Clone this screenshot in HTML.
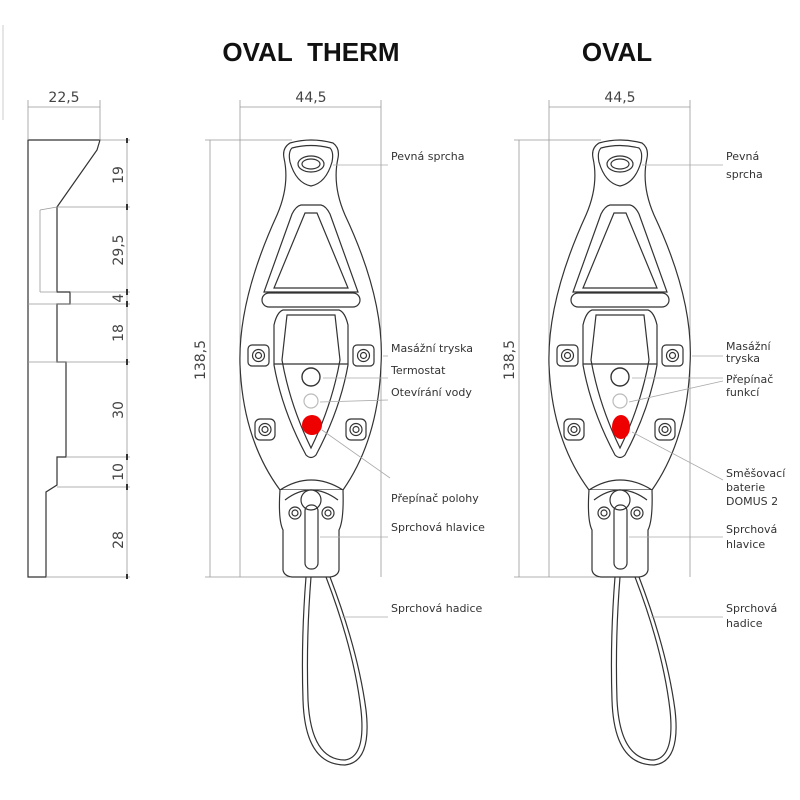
<!DOCTYPE html>
<html><head><meta charset="utf-8"><style>
html,body{margin:0;padding:0;background:#fff}
svg{display:block}
text{font-family:"DejaVu Sans","Liberation Sans",sans-serif;fill:#333}
.l{font-size:11px}
.d{font-size:14px;fill:#444}
.t{font-family:"Liberation Sans",sans-serif;font-weight:bold;font-size:26px;fill:#111}
</style></head><body>
<svg width="800" height="800" viewBox="0 0 800 800" xmlns="http://www.w3.org/2000/svg">
<defs>
<g id="dev" fill="none" stroke="#333" stroke-width="1.2">
  <path d="M290,143 Q311,137 333,143 Q340,148 338,158 Q332,185 345,215 Q385,300 381,365 Q378,440 343,490 L280,490 Q243,440 240,365 Q238,300 277,215 Q290,185 284,158 Q282,148 290,143 Z" fill="#fff"/>
  <path d="M292,148 Q311,143 330,148 Q334,152 332,162 Q326,183 311,186 Q296,183 290,162 Q288,152 292,148 Z"/>
  <ellipse cx="311" cy="164" rx="13" ry="8"/>
  <ellipse cx="311" cy="164" rx="9" ry="5"/>
  <path d="M301,205 L321,205 Q326,206 330,214 L358,292 L264,292 L292,214 Q296,206 301,205 Z"/>
  <path d="M305,213 L317,213 L348,288 L274,288 Z"/>
  <rect x="262" y="293" width="98" height="14" rx="7"/>
  <path d="M283,310 L339,310 Q345,312 348,325 L348,365 Q340,410 316,455 Q311,460 306,455 Q282,410 274,365 L274,325 Q277,312 283,310 Z"/>
  <path d="M287,315 L335,315 L340,360 Q332,405 311,448 Q290,405 282,360 Z"/>
  <line x1="274" y1="364" x2="348" y2="364"/>
  <g><rect x="248" y="345" width="21" height="21" rx="4"/><circle cx="258.5" cy="355.5" r="6"/><circle cx="258.5" cy="355.5" r="3"/></g>
  <g><rect x="353" y="345" width="21" height="21" rx="4"/><circle cx="363.5" cy="355.5" r="6"/><circle cx="363.5" cy="355.5" r="3"/></g>
  <g><rect x="255" y="419" width="20" height="21" rx="5"/><circle cx="265" cy="429.5" r="6"/><circle cx="265" cy="429.5" r="3"/></g>
  <g><rect x="346" y="419" width="20" height="21" rx="5"/><circle cx="356" cy="429.5" r="6"/><circle cx="356" cy="429.5" r="3"/></g>
  <path d="M280,490 Q311,470 343,490" />
  <path d="M280,490 Q278,520 283,530 L283,570 Q284,576 292,577 L330,577 Q338,576 339,570 L339,530 Q344,520 343,490" fill="#fff"/>
  <path d="M285,500 Q311,480 338,500"/>
  <circle cx="311" cy="500" r="10" fill="#fff"/>
  <circle cx="295" cy="513" r="6"/><circle cx="295" cy="513" r="3"/>
  <circle cx="328" cy="513" r="6"/><circle cx="328" cy="513" r="3"/>
  <rect x="305" y="505" width="13" height="64" rx="6"/>
  <path d="M306,577 Q301,640 303,700 Q305,765 345,765 Q372,762 366,710 Q358,650 330,577"/>
  <path d="M311,577 Q306,640 308,700 Q311,760 345,760 Q366,757 361,710 Q354,650 326,577"/>
</g>
</defs>

<line x1="3" y1="25" x2="3" y2="120" stroke="#ccc"/>
<text class="t" x="311" y="61" text-anchor="middle">OVAL&#160; THERM</text>
<text class="t" x="617" y="61" text-anchor="middle">OVAL</text>

<g fill="none" stroke="#333" stroke-width="1.2">
<path d="M28,140 L100,140 L97,150 L57,207 L57,292 L70,292 L70,304 L57,304 L57,362 L66,362 L66,457 L57,457 L57,485 L46,492 L46,577 L28,577 Z"/>
</g>
<g stroke="#999" stroke-width="0.8" fill="none">
<line x1="28" y1="107" x2="100" y2="107"/><line x1="28" y1="100" x2="28" y2="140"/><line x1="100" y1="100" x2="100" y2="140"/>
<line x1="127" y1="140" x2="127" y2="577"/>
<line x1="100" y1="140" x2="130" y2="140"/><line x1="57" y1="207" x2="130" y2="207"/>
<line x1="40" y1="210" x2="40" y2="292"/><line x1="40" y1="210" x2="57" y2="207"/><line x1="40" y1="292" x2="57" y2="292"/>
<line x1="70" y1="292" x2="130" y2="292"/><line x1="28" y1="304" x2="130" y2="304"/>
<line x1="28" y1="362" x2="130" y2="362"/><line x1="66" y1="457" x2="130" y2="457"/><line x1="57" y1="487" x2="130" y2="487"/>
<line x1="46" y1="577" x2="130" y2="577"/>
</g>
<g stroke="#333" stroke-width="2">
<line x1="127" y1="138" x2="127" y2="143"/><line x1="127" y1="204" x2="127" y2="210"/><line x1="127" y1="289" x2="127" y2="295"/><line x1="127" y1="301" x2="127" y2="307"/><line x1="127" y1="359" x2="127" y2="365"/><line x1="127" y1="454" x2="127" y2="460"/><line x1="127" y1="484" x2="127" y2="490"/><line x1="127" y1="574" x2="127" y2="579"/>
</g>
<text class="d" x="64" y="102" text-anchor="middle">22,5</text>
<text class="d" transform="translate(123,175) rotate(-90)" text-anchor="middle">19</text>
<text class="d" transform="translate(123,250) rotate(-90)" text-anchor="middle">29,5</text>
<text class="d" transform="translate(123,298) rotate(-90)" text-anchor="middle">4</text>
<text class="d" transform="translate(123,333) rotate(-90)" text-anchor="middle">18</text>
<text class="d" transform="translate(123,410) rotate(-90)" text-anchor="middle">30</text>
<text class="d" transform="translate(123,472) rotate(-90)" text-anchor="middle">10</text>
<text class="d" transform="translate(123,540) rotate(-90)" text-anchor="middle">28</text>

<g stroke="#999" stroke-width="0.8">
<line x1="240" y1="100" x2="240" y2="577"/><line x1="381" y1="100" x2="381" y2="577"/>
<line x1="240" y1="107" x2="381" y2="107"/>
<line x1="210" y1="140" x2="210" y2="577"/>
<line x1="205" y1="140" x2="292" y2="140"/><line x1="205" y1="577" x2="290" y2="577"/>
</g>
<text class="d" x="311" y="102" text-anchor="middle">44,5</text>
<text class="d" transform="translate(205,360) rotate(-90)" text-anchor="middle">138,5</text>
<use href="#dev"/>
<circle cx="311" cy="377" r="9" fill="#fff" stroke="#333" stroke-width="1.4"/>
<circle cx="311" cy="401" r="7" fill="#fff" stroke="#bbb" stroke-width="1.2"/>
<circle cx="312" cy="425" r="10" fill="#e00"/>
<g stroke="#aaa" stroke-width="0.8">
<line x1="333" y1="165" x2="388" y2="165"/><line x1="383" y1="356" x2="388" y2="356"/>
<line x1="323" y1="378" x2="388" y2="378"/><line x1="320" y1="402" x2="388" y2="400"/>
<line x1="322" y1="430" x2="390" y2="478"/><line x1="320" y1="537" x2="388" y2="537"/>
<line x1="342" y1="617" x2="388" y2="617"/>
</g>
<text class="l" x="391" y="160">Pevná sprcha</text>
<text class="l" x="391" y="352">Masážní tryska</text>
<text class="l" x="391" y="374">Termostat</text>
<text class="l" x="391" y="396">Otevírání vody</text>
<text class="l" x="391" y="502">Přepínač polohy</text>
<text class="l" x="391" y="531">Sprchová hlavice</text>
<text class="l" x="391" y="612">Sprchová hadice</text>

<g stroke="#999" stroke-width="0.8">
<line x1="549" y1="100" x2="549" y2="577"/><line x1="690" y1="100" x2="690" y2="577"/>
<line x1="549" y1="107" x2="690" y2="107"/>
<line x1="519" y1="140" x2="519" y2="577"/>
<line x1="514" y1="140" x2="601" y2="140"/><line x1="514" y1="577" x2="599" y2="577"/>
</g>
<text class="d" x="620" y="102" text-anchor="middle">44,5</text>
<text class="d" transform="translate(514,360) rotate(-90)" text-anchor="middle">138,5</text>
<use href="#dev" transform="translate(309,0)"/>
<circle cx="620" cy="377" r="9" fill="#fff" stroke="#333" stroke-width="1.4"/>
<circle cx="620" cy="401" r="7" fill="#fff" stroke="#bbb" stroke-width="1.2"/>
<ellipse cx="621" cy="427" rx="9" ry="12" fill="#e00"/>
<g stroke="#aaa" stroke-width="0.8">
<line x1="642" y1="165" x2="723" y2="165"/><line x1="692" y1="356" x2="723" y2="356"/>
<line x1="632" y1="378" x2="723" y2="378"/><line x1="629" y1="402" x2="723" y2="381"/>
<line x1="632" y1="432" x2="723" y2="480"/><line x1="629" y1="537" x2="723" y2="537"/>
<line x1="651" y1="617" x2="723" y2="617"/>
</g>
<text class="l" x="726" y="160">Pevná</text><text class="l" x="726" y="178">sprcha</text>
<text class="l" x="726" y="350">Masážní</text><text class="l" x="726" y="362">tryska</text>
<text class="l" x="726" y="383">Přepínač</text><text class="l" x="726" y="396">funkcí</text>
<text class="l" x="726" y="477">Směšovací</text><text class="l" x="726" y="491">baterie</text><text class="l" x="726" y="505">DOMUS 2</text>
<text class="l" x="726" y="533">Sprchová</text><text class="l" x="726" y="548">hlavice</text>
<text class="l" x="726" y="612">Sprchová</text><text class="l" x="726" y="627">hadice</text>
</svg>
</body></html>
